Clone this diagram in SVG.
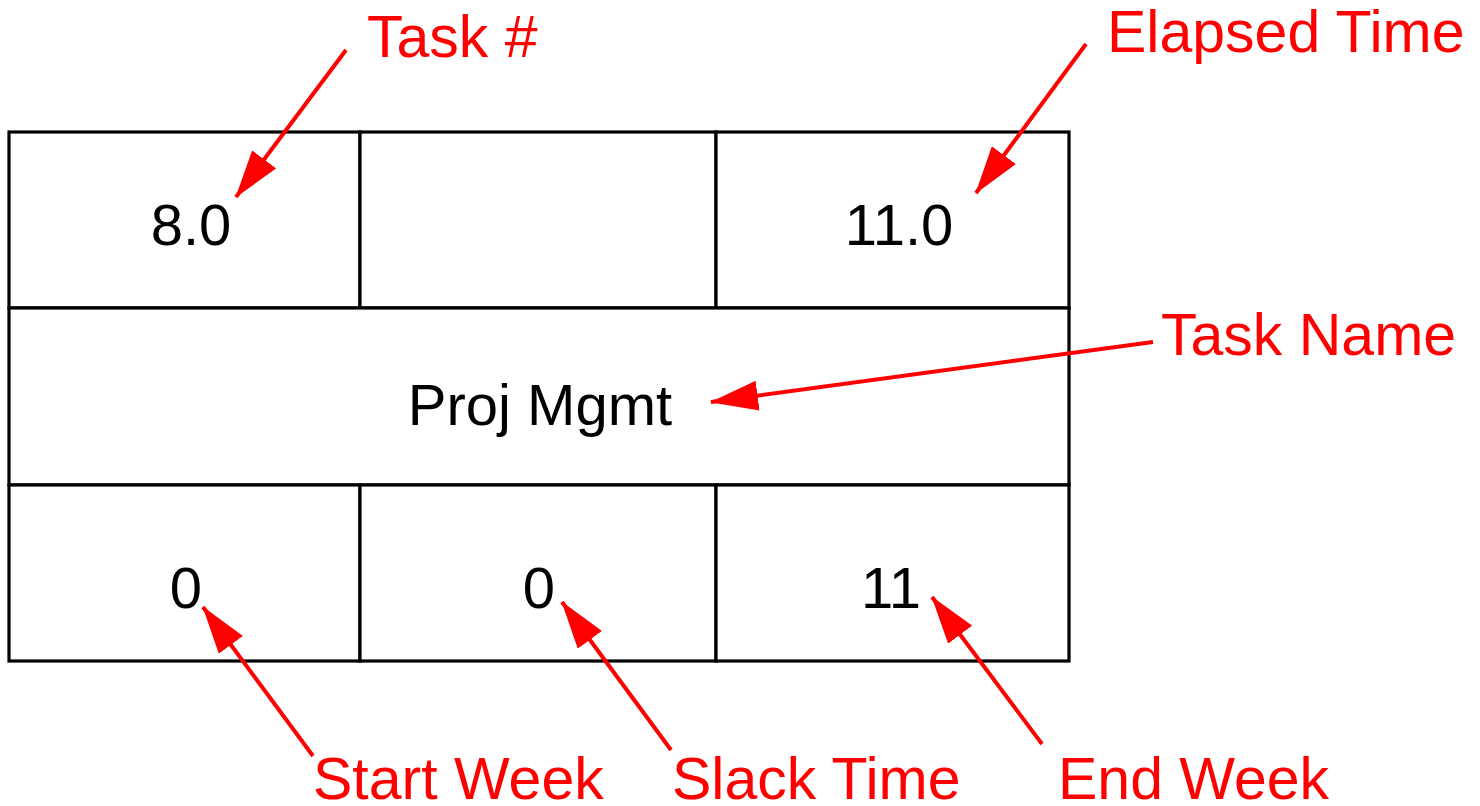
<svg xmlns="http://www.w3.org/2000/svg" width="1480" height="806" viewBox="0 0 1480 806">
<style>
.cell{fill:#fff;stroke:#000;stroke-width:3.2}
.val{font-family:"Liberation Sans",Arial,sans-serif;font-size:58px;fill:#000;text-anchor:middle}
.lbl{font-family:"Liberation Sans",Arial,sans-serif;font-size:59px;fill:#ff0000}
.conn{stroke:#ff0000;stroke-width:4;fill:none;marker-end:url(#ah)}
</style>
<defs>
<marker id="ah" viewBox="0 0 48 30" refX="47" refY="15" markerWidth="48" markerHeight="30" markerUnits="userSpaceOnUse" orient="auto">
<path d="M0,0 L48,15 L0,30 z" fill="#ff0000"/>
</marker>
</defs>
<rect width="1480" height="806" fill="#fff"/>
<g id="task-box">
<g id="cell-task-num"><rect class="cell" x="9" y="132" width="351" height="176"/><text class="val" x="191" y="245">8.0</text></g>
<g id="cell-top-mid"><rect class="cell" x="360" y="132" width="356" height="176"/></g>
<g id="cell-elapsed"><rect class="cell" x="716" y="132" width="353" height="176"/><text class="val" x="899" y="245">11.0</text></g>
<g id="cell-name"><rect class="cell" x="9" y="308" width="1060" height="177"/><text class="val" x="540" y="425">Proj Mgmt</text></g>
<g id="cell-start"><rect class="cell" x="9" y="485" width="351" height="176"/><text class="val" x="186" y="608">0</text></g>
<g id="cell-slack"><rect class="cell" x="360" y="485" width="356" height="176"/><text class="val" x="539" y="608">0</text></g>
<g id="cell-end"><rect class="cell" x="716" y="485" width="353" height="176"/><text class="val" x="891" y="608">11</text></g>
</g>
<g id="labels">
<text id="lbl-task-num" class="lbl" x="367" y="57">Task #</text>
<text id="lbl-elapsed" class="lbl" x="1107" y="52">Elapsed Time</text>
<text id="lbl-name" class="lbl" x="1161" y="355">Task Name</text>
<text id="lbl-start" class="lbl" x="313" y="799">Start Week</text>
<text id="lbl-slack" class="lbl" x="672" y="799">Slack Time</text>
<text id="lbl-end" class="lbl" x="1058" y="799">End Week</text>
</g>
<g id="connectors">
<line class="conn" x1="346" y1="50" x2="236" y2="197"/>
<line class="conn" x1="1086" y1="44" x2="976" y2="193"/>
<line class="conn" x1="1153" y1="342" x2="711" y2="402"/>
<line class="conn" x1="313" y1="756" x2="203" y2="607"/>
<line class="conn" x1="671" y1="750" x2="562" y2="602"/>
<line class="conn" x1="1042" y1="744" x2="932" y2="597"/>
</g>
</svg>
